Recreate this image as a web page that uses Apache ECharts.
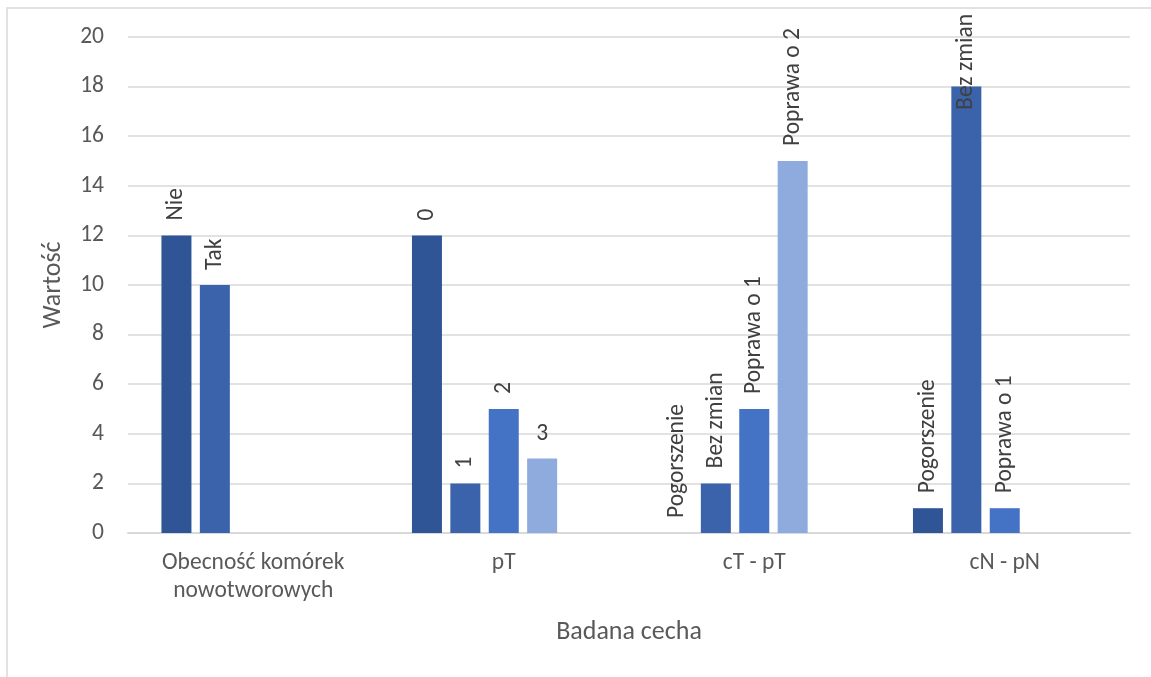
<!DOCTYPE html>
<html>
<head>
<meta charset="utf-8">
<script src="https://cdn.jsdelivr.net/npm/echarts@6/dist/echarts.min.js"></script>
<style>
  html, body { margin: 0; padding: 0; background: #fff; }
  #chart { width: 1151px; height: 677px; }
</style>
</head>
<body>
<div id="chart"></div>
<script>
// Categories on the x axis
const categories = ['Obecność komórek\nnowotworowych', 'pT', 'cT - pT', 'cN - pN'];

// Bar values per slot inside each category
const slot1Values = [12, 12, 0, 1];
const slot2Values = [10, 2, 2, 18];
const slot3Values = [null, 5, 5, 1];
const slot4Values = [null, 3, 15, null];

// Text shown above each bar
const slot1Labels = ['Nie', '0', 'Pogorszenie', 'Pogorszenie'];
const slot2Labels = ['Tak', '1', 'Bez zmian', 'Bez zmian'];
const slot3Labels = [null, '2', 'Poprawa o 1', 'Poprawa o 1'];
const slot4Labels = [null, '3', 'Poprawa o 2', null];

const yTicks = [0, 2, 4, 6, 8, 10, 12, 14, 16, 18, 20];

const FONT = 'Carlito, Calibri, Lato, sans-serif';
const colors = ['#2F5597', '#3A63AB', '#4472C4', '#8FAADC'];

// labels drawn horizontally instead of rotated: [slot, category]
const uprightLabels = [[3, 1]];

const slots = [
  { values: slot1Values, labels: slot1Labels },
  { values: slot2Values, labels: slot2Labels },
  { values: slot3Values, labels: slot3Labels },
  { values: slot4Values, labels: slot4Labels }
];

const LABEL_TOP = 14;

const series = slots.map((s, si) => ({
  type: 'bar',
  barWidth: 30,
  barGap: '28%',
  itemStyle: { color: colors[si] },
  label: {
    show: true,
    position: 'top',
    rotate: 90,
    align: 'left',
    verticalAlign: 'middle',
    distance: 15,
    color: '#404040',
    fontFamily: FONT,
    fontSize: 23.5,
    formatter: p => s.labels[p.dataIndex] || ''
  },
  labelLayout: function (params) {
    // push labels that would leave the chart back down below its top edge;
    // the shift is given along the rotated text's own x direction
    const r = params.labelRect;
    if (r && r.y < LABEL_TOP) {
      return { dx: r.y - LABEL_TOP };
    }
    return {};
  },
  data: s.values.map((v, ci) => {
    if (uprightLabels.some(u => u[0] === si && u[1] === ci)) {
      return { value: v, label: { rotate: 0, align: 'center', verticalAlign: 'bottom', distance: 12 } };
    }
    return v;
  })
}));

// empty fifth slot keeps the group spacing
series.push({ type: 'bar', barWidth: 30, barGap: '28%', data: [null, null, null, null], silent: true });

const chart = echarts.init(document.getElementById('chart'));
chart.setOption({
  animation: false,
  backgroundColor: '#fff',
  graphic: [{
    type: 'rect',
    shape: { x: 7, y: 8, width: 1200, height: 720 },
    style: { fill: 'none', stroke: '#d9d9d9', lineWidth: 1.5 },
    silent: true
  }],
  grid: { left: 128, right: 21, top: 37, bottom: 144, containLabel: false },
  xAxis: {
    type: 'category',
    data: categories,
    name: 'Badana cecha',
    nameLocation: 'middle',
    nameGap: 86,
    nameTextStyle: { color: '#595959', fontFamily: FONT, fontSize: 26, verticalAlign: 'top' },
    axisLine: { lineStyle: { color: '#d9d9d9', width: 2 } },
    axisTick: { show: false },
    axisLabel: { color: '#595959', fontFamily: FONT, fontSize: 23.5, lineHeight: 28, margin: 16, interval: 0 }
  },
  yAxis: {
    type: 'value',
    min: yTicks[0],
    max: yTicks[yTicks.length - 1],
    interval: yTicks[1] - yTicks[0],
    name: 'Wartość',
    nameLocation: 'middle',
    nameRotate: 90,
    nameGap: 62,
    nameTextStyle: { color: '#595959', fontFamily: FONT, fontSize: 26 },
    axisLine: { show: false },
    axisTick: { show: false },
    splitLine: { lineStyle: { color: '#d9d9d9', width: 1.5 } },
    axisLabel: { color: '#595959', fontFamily: FONT, fontSize: 23.5, margin: 24 }
  },
  series: series
});
</script>
</body>
</html>
